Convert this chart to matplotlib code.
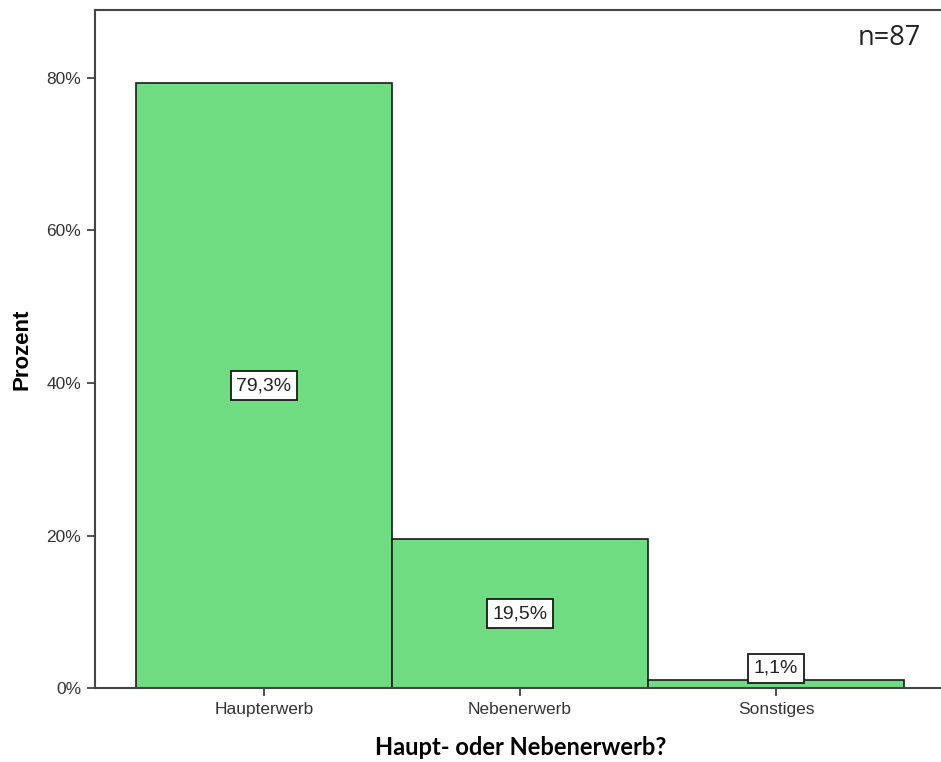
import matplotlib
matplotlib.use('Agg')
import matplotlib.pyplot as plt
from matplotlib.ticker import FuncFormatter

# Daten
categories = ['Haupterwerb', 'Nebenerwerb', 'Sonstiges']
percent = [79.3, 19.5, 1.1]
labels = ['79,3%', '19,5%', '1,1%']
y_ticks = [0, 20, 40, 60, 80]

bar_color = '#70DC82'

fig = plt.figure(figsize=(9.41, 7.62), dpi=100)
# rechte Achsenlinie liegt außerhalb des Bildes (wie im Original)
ax = fig.add_axes([0.101, 0.097, 0.9044, 0.89])

x = range(len(categories))
ax.bar(x, percent, width=1.0, color=bar_color, edgecolor='#1a1a1a', linewidth=1.2)

for i, (v, lab) in enumerate(zip(percent, labels)):
    ax.text(i, max(v / 2, 2.6), lab, ha='center', va='center',
            fontsize=14, family='Liberation Sans', color='#222222',
            bbox=dict(boxstyle='square,pad=0.3', facecolor='white',
                      edgecolor='#1a1a1a', linewidth=1.3))

ax.set_xlim(-0.66, 2.664)
ax.set_ylim(0, 88.9)
ax.set_xticks(list(x))
ax.set_xticklabels(categories, family='Liberation Sans', fontsize=12.5, color='#333333')
ax.set_yticks(y_ticks)
ax.yaxis.set_major_formatter(FuncFormatter(lambda v, p: f'{v:.0f}%'))
for t in ax.get_yticklabels():
    t.set_family('Liberation Sans')
    t.set_fontsize(12.5)
    t.set_color('#333333')
ax.tick_params(axis='both', length=6, width=1.2, color='#333333', pad=4)

for s in ['left', 'bottom', 'top', 'right']:
    ax.spines[s].set_color('#444444')
    ax.spines[s].set_linewidth(1.5)

ax.set_ylabel('Prozent', family='Liberation Sans', fontweight='bold', fontsize=16, labelpad=10)
ax.set_xlabel('Haupt- oder Nebenerwerb?', family='Lato', fontweight='bold', fontsize=17, labelpad=14)

ax.text(0.970, 0.958, 'n=87', transform=ax.transAxes, ha='right', va='center',
        family='Open Sans', fontsize=19.5, color='#222222')

fig.savefig('out.png', dpi=100)
